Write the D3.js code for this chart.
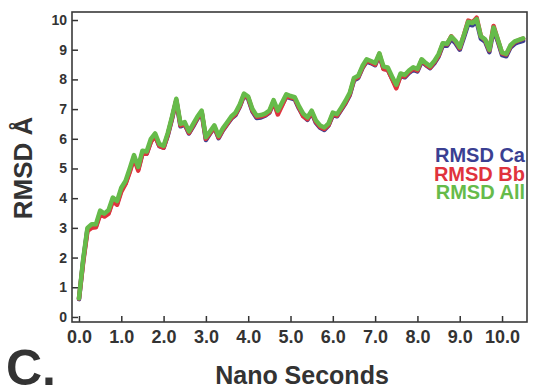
<!DOCTYPE html>
<html>
<head>
<meta charset="utf-8">
<script src="https://d3js.org/d3.v7.min.js"></script>
<style>
  body { margin: 0; background: #ffffff; }
  text { font-family: "Liberation Sans", Arial, sans-serif; font-weight: bold; fill: #333; }
</style>
</head>
<body>
<div class="chart"></div>
<script>
// Sampling of the trajectory (ns)
var startNs = 0;
var stepNs = 0.1;

// RMSD of C-alpha atoms
var rmsdCa = [
  0.6, 1.9, 2.95, 3.05, 3.05, 3.5, 3.42, 3.52, 3.95, 3.82,
  4.28, 4.5, 4.92, 5.38, 4.98, 5.52, 5.5, 5.92, 6.1, 5.75,
  5.7, 6.12, 6.68, 7.28, 6.42, 6.48, 6.18, 6.42, 6.68, 6.88,
  5.96, 6.18, 6.38, 6.02, 6.28, 6.48, 6.68, 6.8, 7.08, 7.45,
  7.35, 6.92, 6.7, 6.72, 6.78, 6.88, 7.22, 6.88, 7.15, 7.42,
  7.37, 7.33, 7.02, 6.77, 6.64, 6.88, 6.54, 6.37, 6.3, 6.45,
  6.8, 6.76, 6.98, 7.2, 7.47, 7.97, 8.05, 8.38, 8.6, 8.55,
  8.48, 8.8, 8.36, 8.33, 8.03, 7.76, 8.12, 8.07, 8.22, 8.33,
  8.27, 8.6, 8.48, 8.38, 8.54, 8.77, 9.14, 9.13, 9.36, 9.22,
  9.0, 9.42, 9.86, 9.82, 9.95, 9.37, 9.27, 8.92, 9.67, 9.28,
  8.82, 8.78, 9.07, 9.2, 9.26, 9.3
];

// RMSD of backbone atoms
var rmsdBb = [
  0.62, 1.85, 2.9, 3.0, 3.02, 3.45, 3.38, 3.48, 3.9, 3.78,
  4.22, 4.48, 4.88, 5.35, 4.93, 5.5, 5.5, 5.9, 6.1, 5.76,
  5.7, 6.15, 6.7, 7.3, 6.45, 6.5, 6.2, 6.45, 6.7, 6.9,
  6.0, 6.2, 6.4, 6.05, 6.3, 6.5, 6.7, 6.83, 7.1, 7.48,
  7.38, 6.95, 6.74, 6.76, 6.8, 6.9, 7.25, 6.82, 7.12, 7.44,
  7.4, 7.36, 7.05, 6.76, 6.66, 6.9, 6.57, 6.4, 6.33, 6.47,
  6.83, 6.78, 7.0, 7.22, 7.5, 8.0, 8.08, 8.4, 8.63, 8.58,
  8.5, 8.85, 8.35, 8.32, 8.02, 7.7, 8.12, 8.1, 8.25, 8.37,
  8.3, 8.65, 8.5, 8.4, 8.58, 8.8, 9.2, 9.18, 9.45, 9.28,
  9.05, 9.5, 9.98, 9.92, 10.08, 9.45, 9.33, 8.98, 9.8, 9.33,
  8.88, 8.84, 9.12, 9.26, 9.32, 9.37
];

// RMSD of all atoms
var rmsdAll = [
  0.63, 1.95, 3.0, 3.12, 3.12, 3.58, 3.48, 3.6, 4.02, 3.9,
  4.35, 4.58, 5.0, 5.45, 5.05, 5.6, 5.57, 6.0, 6.18, 5.82,
  5.76, 6.2, 6.75, 7.35, 6.5, 6.56, 6.25, 6.5, 6.75, 6.95,
  6.05, 6.25, 6.45, 6.1, 6.35, 6.55, 6.75, 6.88, 7.15, 7.52,
  7.42, 7.0, 6.78, 6.8, 6.85, 6.95, 7.3, 6.95, 7.22, 7.5,
  7.44, 7.4, 7.1, 6.85, 6.72, 6.95, 6.62, 6.45, 6.38, 6.52,
  6.88, 6.83, 7.05, 7.28, 7.55, 8.05, 8.12, 8.45, 8.68, 8.62,
  8.55, 8.88, 8.43, 8.4, 8.1, 7.82, 8.2, 8.15, 8.3, 8.41,
  8.35, 8.68, 8.55, 8.45, 8.62, 8.85, 9.22, 9.2, 9.44, 9.3,
  9.08, 9.5, 9.94, 9.9, 10.03, 9.45, 9.35, 9.0, 9.75, 9.35,
  8.9, 8.86, 9.15, 9.28, 9.33, 9.38
];

// Tick values and legend
var xTicks = [0, 1, 2, 3, 4, 5, 6, 7, 8, 9, 10];
var yTicks = [0, 1, 2, 3, 4, 5, 6, 7, 8, 9, 10];
var seriesNames = ["RMSD Ca", "RMSD Bb", "RMSD All"];
var seriesColors = ["#3a3f92", "#e0333d", "#66bb4a"];

// SVG area and plot box
var svgWidth = 534;
var svgHeight = 389;
var margin = {top: 12, right: 7, bottom: 67, left: 72};
var width = svgWidth - margin.left - margin.right;
var height = svgHeight - margin.top - margin.bottom;

var svg = d3.select(".chart")
  .append("svg")
  .attr("width", svgWidth)
  .attr("height", svgHeight);

var chart = svg.append("g")
  .attr("transform", "translate(" + margin.left + "," + margin.top + ")");

// Scales
var xScale = d3.scaleLinear().domain([-0.165, 10.59]).range([0, width]);
var yScale = d3.scaleLinear().domain([-0.17, 10.27]).range([height, 0]);

// Axes, ticks pointing into the plot
var bottomAxis = d3.axisBottom(xScale)
  .tickValues(xTicks)
  .tickFormat(d3.format(".1f"))
  .tickSizeInner(-6)
  .tickSizeOuter(0)
  .tickPadding(8);
var leftAxis = d3.axisLeft(yScale)
  .tickValues(yTicks)
  .tickFormat(d3.format("d"))
  .tickSizeInner(-6)
  .tickSizeOuter(0)
  .tickPadding(5);

var xAxisG = chart.append("g")
  .attr("transform", "translate(0," + height + ")")
  .call(bottomAxis);
xAxisG.select(".domain").remove();
xAxisG.selectAll("line").attr("stroke", "#333").attr("stroke-width", 1.5);
xAxisG.selectAll("text")
  .style("font-size", "18px")
  .style("font-family", "'Liberation Sans', Arial, sans-serif")
  .style("font-weight", "bold")
  .attr("fill", "#333");

var yAxisG = chart.append("g").call(leftAxis);
yAxisG.select(".domain").remove();
yAxisG.selectAll("line").attr("stroke", "#333").attr("stroke-width", 1.5);
yAxisG.selectAll("text")
  .style("font-size", "14px")
  .style("font-family", "'Liberation Sans', Arial, sans-serif")
  .style("font-weight", "bold")
  .attr("fill", "#333");

// Lines, drawn Ca, Bb, then All on top
var line = d3.line()
  .x(function(d, i) { return xScale(startNs + i * stepNs); })
  .y(function(d) { return yScale(d); });

[rmsdCa, rmsdBb, rmsdAll].forEach(function(series, k) {
  chart.append("path")
    .datum(series)
    .attr("fill", "none")
    .attr("stroke", seriesColors[k])
    .attr("stroke-width", 4.5)
    .attr("stroke-linejoin", "round")
    .attr("stroke-linecap", "round")
    .attr("d", line);
});

// Frame around the plot
chart.append("rect")
  .attr("width", width)
  .attr("height", height)
  .attr("fill", "none")
  .attr("stroke", "#3a3a3a")
  .attr("stroke-width", 1.6);

// Legend, right aligned
chart.selectAll(".legend")
  .data(seriesNames)
  .enter().append("text")
  .attr("class", "legend")
  .attr("x", width - 2)
  .attr("y", function(d, i) { return 150 + i * 18.5; })
  .attr("text-anchor", "end")
  .style("font-size", "20px")
  .style("fill", function(d, i) { return seriesColors[i]; })
  .text(function(d) { return d; });

// Axis titles
svg.append("text")
  .attr("transform", "translate(32,168) rotate(-90)")
  .attr("text-anchor", "middle")
  .style("font-size", "26px")
  .text("RMSD Å");

svg.append("text")
  .attr("x", 302)
  .attr("y", 384)
  .attr("text-anchor", "middle")
  .style("font-size", "25px")
  .text("Nano Seconds");

// Panel letter
svg.append("text")
  .attr("x", 6)
  .attr("y", 385)
  .style("font-size", "50px")
  .text("C.");
</script>
</body>
</html>
